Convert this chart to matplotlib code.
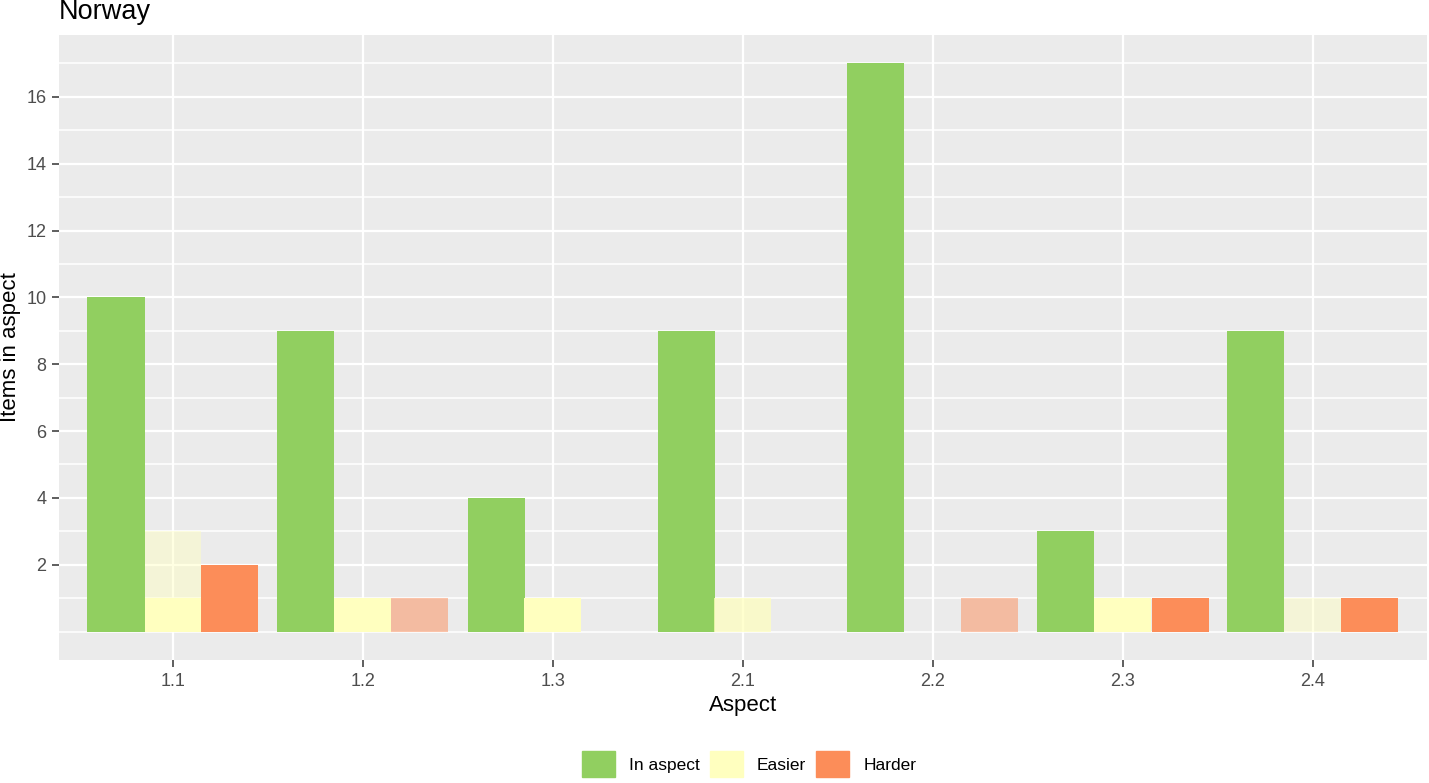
import matplotlib.pyplot as plt
import matplotlib.patches as mpatches
import numpy as np

plt.rcParams['font.family'] = ['Liberation Sans', 'DejaVu Sans']

aspects = ['1.1', '1.2', '1.3', '2.1', '2.2', '2.3', '2.4']
in_aspect = [10, 9, 4, 9, 17, 3, 9]
# faded (lighter) bars drawn underneath, solid bars on top
easier_faded = [3, 0, 0, 1, 0, 0, 1]
easier_faded_alpha = [0.45, 1, 1, 0.75, 1, 1, 0.45]
easier_solid = [1, 1, 1, 0, 0, 1, 0]
harder_faded = [0, 1, 0, 0, 1, 0, 0]
harder_solid = [2, 0, 0, 0, 0, 1, 1]

green = '#91CF60'
yellow = '#FFFFBF'
orange = '#FC8D59'

fig = plt.figure(figsize=(14.29, 7.83), dpi=100)
ax = fig.add_axes([59 / 1429, 123 / 783, 1368 / 1429, 625 / 783])
ax.set_facecolor('#EBEBEB')

x = np.arange(len(aspects)) + 1
w = 0.3

ax.bar(x - w, in_aspect, width=w, color=green, zorder=3)
for xi, v, a in zip(x, easier_faded, easier_faded_alpha):
    if v > 0:
        ax.bar(xi, v, width=w, color=yellow, alpha=a, zorder=3)
for xi, v in zip(x, easier_solid):
    if v > 0:
        ax.bar(xi, v, width=w, color=yellow, zorder=4)
for xi, v in zip(x, harder_faded):
    if v > 0:
        ax.bar(xi + w, v, width=w, color=orange, alpha=0.5, zorder=3)
for xi, v in zip(x, harder_solid):
    if v > 0:
        ax.bar(xi + w, v, width=w, color=orange, zorder=4)

ax.set_xlim(0.4, 7.6)
ax.set_ylim(-0.85, 17.85)
ax.set_xticks(x)
ax.set_xticklabels(aspects)
ax.set_yticks(np.arange(2, 17, 2))
ax.set_yticks([0, 1, 3, 5, 7, 9, 11, 13, 15, 17], minor=True)

ax.grid(True, which='major', color='white', linewidth=1.6, zorder=1)
ax.grid(True, which='minor', axis='y', color='white', linewidth=1.1, zorder=1)
ax.tick_params(which='major', length=5, width=1.1, color='#333333',
               labelcolor='#4D4D4D', labelsize=13, pad=4)
ax.tick_params(which='minor', length=0)
for s in ax.spines.values():
    s.set_visible(False)

ax.set_xlabel('Aspect', fontsize=16, labelpad=4)
ax.set_ylabel('Items in aspect', fontsize=16)
ax.yaxis.set_label_coords(-0.028, 0.5)
fig.text(59 / 1429, 1 - 12 / 783, 'Norway', fontsize=19.5, ha='left', va='center')

handles = [mpatches.Patch(color=green, label='In aspect'),
           mpatches.Patch(color=yellow, label='Easier'),
           mpatches.Patch(color=orange, label='Harder')]
fig.legend(handles=handles, loc='center', bbox_to_anchor=(749 / 1429, 1 - 764 / 783),
           ncol=3, frameon=False, fontsize=12.5, handlelength=1.9, handleheight=1.9,
           handletextpad=0.8, columnspacing=0.6, borderpad=0)

fig.savefig('out.png', dpi=100)
